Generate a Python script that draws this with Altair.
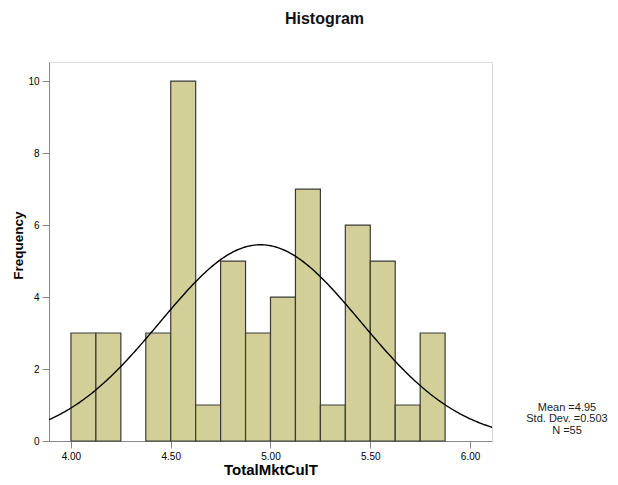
import altair as alt
import pandas as pd

# ---- data ----
bin_starts = [4.0, 4.125, 4.25, 4.375, 4.5, 4.625, 4.75, 4.875, 5.0, 5.125, 5.25, 5.375, 5.5, 5.625, 5.75]
counts     = [3,   3,     0,    3,     10,  1,     5,    3,     4,   7,     1,    6,     5,   1,     3]
bin_width = 0.125
mean_val = 4.95
sd_val = 0.503
n_val = 55
x_ticks = [4.0, 4.5, 5.0, 5.5, 6.0]
y_ticks = [0, 2, 4, 6, 8, 10]
x_domain = [3.89, 6.11]
y_domain = [0, 10.53]

FONT = "Liberation Sans"

bars_df = pd.DataFrame({
    "start": bin_starts,
    "end": [b + bin_width for b in bin_starts],
    "count": counts,
    "zero": [0] * len(counts),
})
bars_df = bars_df[bars_df["count"] > 0]

xscale = alt.Scale(domain=x_domain, nice=False, zero=False)
yscale = alt.Scale(domain=y_domain, nice=False)

xaxis = alt.Axis(values=x_ticks, format=".2f", title="TotalMktCulT", grid=False,
                 tickSize=7, labelPadding=3, titleY=33, titleBaseline="alphabetic",
                 titleFontSize=15)
yaxis = alt.Axis(values=y_ticks, title="Frequency", grid=False, tickSize=7, labelPadding=3,
                 titleX=-31, titleY=183, titleAlign="center", titleBaseline="middle", titleAngle=-90,
                 titleFontSize=13.5)

bars = alt.Chart(bars_df).mark_rect(
    fill="#D3CF98", stroke="#3a3a3a", strokeWidth=1.2, opacity=1
).encode(
    x=alt.X("start:Q", scale=xscale, axis=xaxis),
    x2="end:Q",
    y=alt.Y("count:Q", scale=yscale, axis=yaxis),
    y2="zero:Q",
)

curve = alt.Chart(alt.sequence(x_domain[0], x_domain[1] + 0.005, 0.01, as_="x")).transform_calculate(
    y=f"{n_val}*{bin_width}/({sd_val}*sqrt(2*PI))*exp(-0.5*pow((datum.x-{mean_val})/{sd_val},2))"
).mark_line(color="black", strokeWidth=1.4).encode(
    x=alt.X("x:Q", scale=xscale),
    y=alt.Y("y:Q", scale=yscale),
)

title = alt.Chart(pd.DataFrame({"t": ["Histogram"]})).mark_text(
    font=FONT, fontSize=16, fontWeight="bold", color="#111", align="center", baseline="alphabetic"
).encode(x=alt.value(275.5), y=alt.value(-38.5), text="t:N")

stats = alt.Chart(pd.DataFrame({"t": [f"Mean ={mean_val}\nStd. Dev. ={sd_val}\nN ={n_val}"]})).mark_text(
    font=FONT, fontSize=11, color="#222", align="center", baseline="alphabetic",
    lineBreak="\n", lineHeight=11.7
).encode(x=alt.value(518), y=alt.value(348.5), text="t:N")

chart = alt.layer(bars, curve, title, stats).properties(
    width=443, height=379,
    autosize=alt.AutoSizeParams(type="none"),
    padding={"left": 41, "top": 54, "right": 118, "bottom": 36},
).configure_view(
    fill="#F0F0F0", stroke="#666666", strokeWidth=2
).configure_axis(
    domainColor="#333333", domainWidth=2, tickColor="#333333", tickWidth=1.5,
    labelFont=FONT, labelFontSize=11, labelColor="#222",
    titleFont=FONT, titleFontWeight="bold", titleColor="#111",
).configure(background="white")

chart.save("out.html", embed_options={"renderer": "svg", "actions": False})
